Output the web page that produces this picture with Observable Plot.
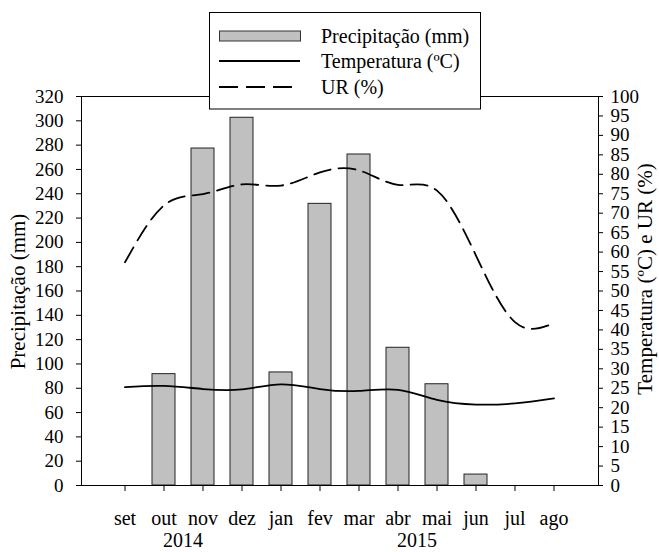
<!DOCTYPE html>
<html><head><meta charset="utf-8">
<script src="https://cdn.jsdelivr.net/npm/d3@7"></script>
<script src="https://cdn.jsdelivr.net/npm/@observablehq/plot@0.6"></script>
<style>body{margin:0;background:#fff} #chart{position:relative;width:659px;height:552px}</style>
</head><body><div id="chart"></div>
<script>
const months = ["set","out","nov","dez","jan","fev","mar","abr","mai","jun","jul","ago"];
const precipitation = [0, 91.6, 277.2, 302.5, 93, 231.7, 272.3, 113.3, 83.3, 9, 0, 0];
const temperature = [25.3, 25.6, 24.8, 24.7, 26.0, 24.8, 24.3, 24.6, 22.0, 20.8, 21.1, 22.4];
const humidity = [57.4, 72.0, 74.9, 77.4, 77.1, 80.5, 81.0, 77.3, 75.8, 59.1, 42.0, 41.7];
const leftTicks = d3.range(0, 321, 20);
const rightTicks = d3.range(0, 101, 5);
const yearLabels = ["2014", "2015"];
const yearSpans = [["out", "nov"], ["abr", "mai"]];
const legendLabels = ["Precipitação (mm)", "Temperatura (ºC)", "UR (%)"];
const leftTitle = "Precipitação (mm)";
const rightTitle = "Temperatura (ºC) e UR (%)";
const ratio = 320 / 100;

const data = months.map((m, i) => ({month: m, precip: precipitation[i], temp: temperature[i], ur: humidity[i]}));
const font = "'Liberation Serif','Times New Roman',serif";

const chart = Plot.plot({
  width: 659, height: 552,
  marginLeft: 81, marginRight: 61, marginTop: 96, marginBottom: 67,
  style: {fontFamily: font, fontSize: "19px", color: "#000", background: "#fff", overflow: "visible"},
  x: {type: "band", domain: months, paddingInner: 0.4, paddingOuter: 0.69, label: null},
  y: {domain: [0, 320], label: null},
  marks: [
    Plot.barY(data.filter(d => d.precip > 0), {x: "month", y: "precip", fill: "#c0c0c0", stroke: "#222", strokeWidth: 1}),
    Plot.line(data, {x: "month", y: d => d.temp * ratio, curve: "natural", stroke: "#000", strokeWidth: 1.8}),
    Plot.line(data, {x: "month", y: d => d.ur * ratio, curve: "natural", stroke: "#000", strokeWidth: 1.8, strokeDasharray: "17,8"}),
    Plot.axisX({tickSize: 6, tickPadding: 19, fontSize: 20, label: null}),
    Plot.axisY({ticks: leftTicks, tickSize: 5, tickPadding: 13, label: null}),
    Plot.axisY({anchor: "right", ticks: rightTicks.map(v => v * ratio), tickFormat: v => Math.round(v / ratio), tickSize: 4, tickPadding: 8, label: null}),
    Plot.frame({stroke: "#000", strokeWidth: 1})
  ]
});
document.getElementById("chart").appendChild(chart);

const svg = d3.select(chart);
const xs = chart.scale("x");
const cx = m => xs.apply(m) + xs.bandwidth / 2;

// year labels
const yr = svg.append("g").attr("font-family", font).attr("font-size", 20).attr("text-anchor", "middle");
yearLabels.forEach((t, i) => {
  const [a, b] = yearSpans[i];
  yr.append("text").attr("x", (cx(a) + cx(b)) / 2).attr("y", 547).text(t);
});

// axis titles
svg.append("text").attr("font-family", font).attr("font-size", 21).attr("text-anchor", "middle")
  .attr("transform", "translate(25,291.5) rotate(-90)").text(leftTitle);
svg.append("text").attr("font-family", font).attr("font-size", 21).attr("text-anchor", "middle")
  .attr("transform", "translate(652,279) rotate(-90)").text(rightTitle);

// legend
const lg = svg.append("g").attr("font-family", font).attr("font-size", 20).attr("text-anchor", "start");
lg.append("rect").attr("x", 209.5).attr("y", 12.5).attr("width", 271).attr("height", 96.5).attr("fill", "#fff").attr("stroke", "#000");
lg.append("rect").attr("x", 219.5).attr("y", 31).attr("width", 81).attr("height", 10).attr("fill", "#c0c0c0").attr("stroke", "#333");
lg.append("line").attr("x1", 219).attr("x2", 300).attr("y1", 61).attr("y2", 61).attr("stroke", "#000").attr("stroke-width", 1.8);
lg.append("line").attr("x1", 219).attr("x2", 300).attr("y1", 87).attr("y2", 87).attr("stroke", "#000").attr("stroke-width", 1.8).attr("stroke-dasharray", "19,8");
const baselines = [42.5, 68.3, 94.3];
legendLabels.forEach((t, i) => lg.append("text").attr("x", 321).attr("y", baselines[i]).attr("text-anchor", "start").text(t));
</script>
</body></html>
